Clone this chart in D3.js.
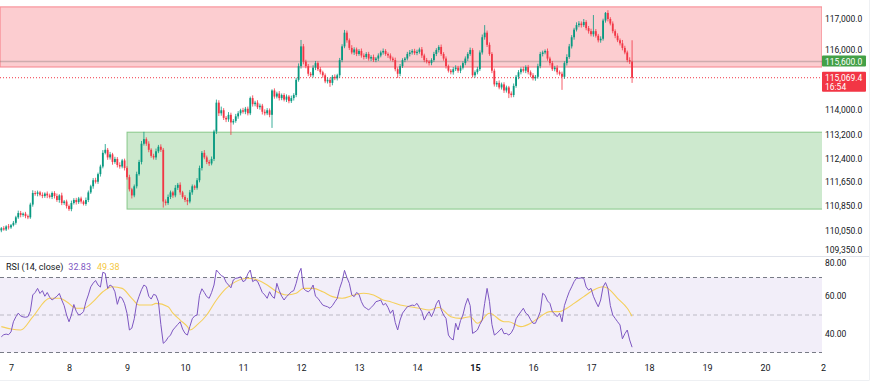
<!DOCTYPE html>
<html>
<head>
<meta charset="utf-8">
<script src="https://cdn.jsdelivr.net/npm/d3@7"></script>
<style>
body { margin: 0; background: #fff; }
svg text { font-family: Roboto, "Liberation Sans", sans-serif; }
</style>
</head>
<body>
<div id="chart"></div>
<script>
// hourly candles, the first one opens on Aug 6 20:00 (UTC)
var startTime = Date.UTC(2025, 7, 6, 20);
var firstOpen = 110050;

// closing prices, one row per day
var closes = [
    110120, 110080, 110180, 110150,
    110220, 110300, 110480, 110620, 110560, 110600, 110520, 110480, 110900, 111280, 111250, 111300,
    111220, 111180, 111260, 111200, 111150, 111280, 111180, 111050, 111200, 110950, 111000, 110850,
    110750, 110950, 111050, 110980, 111100, 111000, 110920, 111050, 111300, 111500, 111700, 111650,
    111900, 112150, 112600, 112700, 112450, 112550, 112300, 112400, 112200, 112150, 112350, 112100,
    111800, 111400, 111200, 111500, 111900, 112300, 112900, 113050, 112900, 112700, 112500, 112450,
    112650, 112800, 112700, 111000, 110950, 111150, 111300, 111200, 111450, 111550, 111300, 111150,
    111050, 111000, 111300, 111500, 111450, 111700, 112100, 112600, 112450, 112300, 112250, 112400,
    113300, 114250, 113900, 114000, 113750, 113700, 113850, 113600, 113650, 113800, 113900, 114000,
    113950, 114050, 113900, 114400, 114200, 114250, 114100, 114150, 113950, 113900, 114000, 113850,
    114650, 114450, 114550, 114400, 114500, 114350, 114450, 114300, 114400, 114500, 115000, 115450,
    116100, 115600, 115450, 115200, 115150, 115400, 115550, 115350, 115250, 115150, 114950, 115000,
    114900, 115100, 115050, 115150, 115650, 116100, 116550, 116300, 116050, 115900, 116000, 115850,
    115950, 115800, 115750, 115850, 115700, 115750, 115650, 115700, 115800, 115900, 115950, 115850,
    115800, 115700, 115650, 115350, 115200, 115450, 115650, 115700, 115850, 115900, 115950, 115880,
    115920, 116000, 115800, 115650, 115600, 115550, 115650, 115850, 115980, 116080, 115850, 115700,
    115450, 115300, 115250, 115350, 115400, 115300, 115400, 115550, 115700, 115850, 115980, 115150,
    115250, 115350, 115900, 116400, 116550, 116150, 115850, 115300, 114850, 114900, 114750, 114850,
    114650, 114750, 114550, 114500, 114800, 115100, 115250, 115350, 115300, 115420, 115250, 115150,
    115050, 115100, 115450, 115850, 115900, 115950, 115700, 115550, 115350, 115400, 115250, 115200,
    115100, 115550, 115750, 116100, 116400, 116650, 116800, 116850, 116800, 116900, 116700, 116600,
    116500, 116600, 116450, 116300, 116350, 116950, 117200, 117000, 116850, 116600, 116450, 116300,
    116200, 116050, 115900, 115650, 115600, 115069.4
];

// how far each high sits above the body
var wickUp = [
    40, 70, 40, 80,
    40, 60, 50, 80, 70, 40, 60, 50, 60, 90, 70, 60, 50, 80, 40, 70, 60, 50, 60, 80, 40, 90, 50, 60,
    50, 80, 60, 70, 50, 60, 40, 80, 60, 50, 70, 80, 50, 60, 90, 190, 60, 80, 50, 70, 60, 90, 50, 60,
    60, 80, 50, 60, 80, 70, 90, 240, 60, 80, 50, 70, 90, 60, 80, 60, 70, 80, 60, 50, 90, 60, 80, 50,
    60, 70, 80, 60, 50, 70, 80, 60, 90, 60, 70, 80, 60, 100, 80, 120, 70, 60, 90, 70, 60, 80, 70, 50,
    80, 60, 70, 50, 90, 60, 80, 70, 60, 80, 70, 60, 40, 70, 60, 80, 50, 60, 70, 50, 80, 60, 70, 90,
    210, 80, 60, 70, 60, 80, 70, 60, 70, 50, 60, 80, 70, 60, 80, 50, 70, 70, 90, 70, 60, 90, 70, 60,
    60, 80, 70, 60, 70, 60, 80, 50, 70, 60, 80, 60, 50, 70, 60, 80, 60, 70, 60, 50, 70, 80, 60, 70,
    70, 60, 80, 60, 70, 50, 60, 70, 60, 60, 80, 60, 70, 50, 60, 70, 80, 60, 70, 60, 70, 60, 80, 60,
    60, 80, 70, 90, 250, 70, 80, 60, 70, 60, 80, 60, 70, 60, 50, 70, 80, 60, 70, 60, 80, 60, 70, 60,
    70, 60, 80, 70, 60, 50, 80, 60, 70, 60, 80, 60, 70, 60, 90, 80, 70, 60, 90, 80, 70, 100, 60, 70,
    80, 530, 70, 60, 80, 60, 30, 90, 60, 70, 60, 80, 60, 110, 70, 60, 90, 700
];

// how far each low sits below the body
var wickDown = [
    60, 40, 50, 70,
    50, 40, 60, 50, 80, 60, 70, 60, 50, 70, 60, 80, 50, 70, 60, 90, 50, 70, 80, 60, 90, 70, 60, 80,
    60, 70, 50, 80, 60, 70, 50, 60, 70, 50, 80, 60, 70, 80, 60, 50, 80, 70, 90, 60, 80, 70, 60, 80,
    80, 70, 100, 60, 70, 50, 80, 60, 70, 80, 60, 70, 80, 60, 70, 200, 80, 60, 70, 80, 60, 70, 80, 60,
    70, 120, 60, 80, 70, 60, 70, 80, 60, 70, 80, 60, 70, 80, 90, 80, 70, 90, 80, 410, 70, 60, 80, 70,
    60, 80, 70, 60, 80, 70, 60, 80, 90, 70, 60, 80, 430, 70, 60, 80, 70, 60, 80, 70, 60, 80, 70, 60,
    80, 90, 70, 80, 60, 70, 80, 60, 70, 80, 60, 70, 130, 80, 60, 70, 80, 70, 60, 80, 70, 60, 80, 70,
    60, 70, 80, 60, 70, 80, 60, 70, 80, 60, 70, 60, 80, 70, 60, 70, 140, 80, 60, 70, 60, 80, 70, 60,
    70, 60, 80, 70, 60, 80, 70, 60, 70, 80, 60, 70, 80, 60, 70, 80, 60, 70, 80, 60, 70, 80, 60, 70,
    80, 70, 60, 70, 80, 70, 60, 80, 70, 80, 60, 70, 80, 70, 150, 80, 70, 60, 80, 70, 60, 80, 70, 60,
    70, 80, 60, 70, 80, 60, 70, 80, 60, 70, 80, 60, 430, 70, 80, 60, 70, 80, 60, 70, 80, 60, 70, 80,
    70, 80, 60, 70, 80, 60, 70, 80, 60, 70, 80, 60, 70, 80, 60, 70, 80, 170
];

// RSI (14, close), one value per candle
var rsiValues = [
    38.4, 39.5, 39.8, 39.5,
    41.0, 46.4, 49.0, 51.0, 49.5, 49.0, 48.8, 49.1, 52.0, 60.7, 62.0, 64.2,
    61.5, 63.0, 60.0, 62.0, 59.5, 58.0, 59.0, 60.0, 61.5, 58.0, 55.0, 50.0,
    46.4, 50.0, 55.6, 52.0, 50.0, 50.5, 51.8, 57.0, 60.7, 65.0, 67.0, 68.4,
    66.0, 64.9, 72.8, 72.2, 64.2, 66.0, 65.1, 62.4, 55.7, 59.8, 58.9, 56.0,
    50.9, 42.0, 43.0, 48.0, 56.2, 60.0, 63.5, 66.0, 65.1, 60.0, 58.5, 61.0,
    60.5, 57.1, 45.0, 34.9, 36.0, 38.0, 39.3, 42.0, 43.5, 45.0, 46.4, 42.5,
    40.2, 39.3, 43.8, 48.0, 49.5, 50.0, 60.4, 64.0, 62.0, 59.8, 58.9, 62.0,
    66.0, 74.0, 72.5, 71.0, 70.4, 67.5, 66.0, 64.5, 68.7, 69.6, 69.8, 70.4,
    67.8, 68.5, 72.0, 74.0, 67.8, 68.7, 68.0, 65.1, 62.0, 60.7, 58.9, 62.4,
    60.0, 58.9, 66.9, 63.0, 60.0, 58.0, 59.8, 61.0, 62.4, 63.0, 66.9, 72.0,
    74.9, 64.2, 63.0, 62.4, 63.5, 66.0, 60.0, 58.9, 57.1, 55.3, 54.8, 54.4,
    53.6, 55.0, 57.0, 58.9, 64.2, 68.0, 73.8, 70.0, 66.9, 60.7, 59.8, 62.0,
    61.0, 57.1, 54.5, 53.6, 52.7, 54.0, 55.3, 57.1, 57.5, 58.0, 55.3, 56.2,
    54.0, 50.9, 52.7, 46.0, 42.0, 47.3, 51.0, 52.7, 54.4, 54.8, 55.3, 55.0,
    56.2, 54.0, 51.8, 47.3, 50.0, 51.8, 49.1, 52.0, 56.0, 58.0, 53.0, 50.0,
    48.2, 39.3, 37.5, 36.7, 45.6, 42.0, 47.0, 50.0, 55.3, 58.9, 55.0, 40.2,
    41.0, 42.0, 45.0, 47.3, 56.2, 64.2, 57.1, 45.0, 39.3, 40.2, 41.5, 42.9,
    40.0, 40.2, 39.3, 40.5, 42.9, 48.0, 50.0, 51.8, 53.6, 51.0, 50.0, 47.5,
    45.6, 45.6, 48.5, 51.8, 61.6, 60.5, 57.5, 56.2, 51.8, 50.5, 49.1, 50.9,
    46.4, 55.0, 58.9, 62.4, 65.0, 67.8, 69.6, 69.6, 69.8, 69.6, 65.0, 63.3,
    64.2, 60.0, 57.0, 54.4, 58.0, 65.0, 67.3, 64.2, 55.0, 50.0, 48.2, 46.4,
    44.7, 37.3, 40.0, 42.0, 36.7, 32.83
];

// RSI-based MA, read as [candle index, value]
var rsiMa = [
    [0, 43.8], [4, 42.5], [8, 42.0], [13, 49.0], [20, 58.9], [24, 58.9], [27, 57.1], [31, 53.6],
    [34, 53.6], [38, 57.1], [42, 62.4], [46, 65.1], [50, 64.2], [54, 58.9], [57, 55.3], [62, 55.3],
    [64, 56.2], [69, 54.4], [71, 51.0], [74, 47.3], [77, 43.8], [78, 42.0], [81, 44.7], [85, 50.0],
    [89, 58.0], [93, 64.2], [97, 67.8], [102, 69.6], [106, 68.7], [110, 66.0], [114, 62.4], [118, 60.7],
    [122, 61.6], [125, 64.2], [129, 64.2], [133, 62.4], [137, 59.8], [141, 58.9], [146, 60.7], [150, 61.6],
    [154, 60.7], [158, 58.0], [161, 57.1], [165, 55.3], [169, 54.4], [173, 53.6], [177, 52.7], [181, 54.0],
    [186, 49.1], [190, 48.2], [194, 49.1], [197, 45.6], [202, 50.9], [208, 46.4], [210, 46.4], [215, 43.8],
    [219, 45.6], [223, 49.1], [227, 51.8], [231, 51.8], [234, 53.6], [237, 56.2], [241, 59.8], [245, 63.3],
    [249, 65.1], [251, 64.2], [255, 58.9], [259, 53.6], [261, 49.38]
];

var supplyZone = [117400, 115420];
var demandZone = [113280, 110750];
var demandStart = Date.UTC(2025, 7, 9);
var levelPrice = 115600;
var lastPrice = 115069.4;
var countdown = "16:54";

var priceTicks = [117000, 116000, 114000, 113200, 112400, 111650, 110850, 110050, 109350];
var rsiTicks = [80, 60, 40];
var rsiLevels = [70, 50, 30];
var dayTicks = [7, 8, 9, 10, 11, 12, 13, 14, 15, 16, 17, 18, 19, 20, 21];
var dayLabels = ["7", "8", "9", "10", "11", "12", "13", "14", "15", "16", "17", "18", "19", "20", "2"];

var W = 878, H = 390;
var plotRight = 822;
var paneSplit = 256;

var upColor = "#089981", downColor = "#f23645";

var svg = d3.select("#chart").append("svg")
    .attr("width", W)
    .attr("height", H);

var x = d3.scaleUtc()
    .domain([Date.UTC(2025, 7, 7), Date.UTC(2025, 7, 21)])
    .range([11, 823]);
var y = d3.scaleLinear().domain([109350, 117000]).range([251.7, 19]);
var yr = d3.scaleLinear().domain([30, 70]).range([352.5, 277.5]);

var candles = closes.map(function(c, i) {
    var o = i === 0 ? firstOpen : closes[i - 1];
    return {
        t: new Date(startTime + i * 3600e3),
        o: o,
        c: c,
        h: Math.max(o, c) + wickUp[i],
        l: Math.min(o, c) - wickDown[i]
    };
});

svg.append("clipPath").attr("id", "price-clip")
    .append("rect").attr("x", 0).attr("y", 0).attr("width", plotRight).attr("height", paneSplit);

var pricePane = svg.append("g").attr("clip-path", "url(#price-clip)");

// supply zone (red) and demand zone (green)
pricePane.append("rect")
    .attr("x", 0)
    .attr("y", y(supplyZone[0]))
    .attr("width", plotRight)
    .attr("height", y(supplyZone[1]) - y(supplyZone[0]))
    .attr("fill", "rgba(242,54,69,0.25)")
    .attr("stroke", "rgba(242,54,69,0.45)")
    .attr("stroke-width", 1.2);

pricePane.append("rect")
    .attr("x", x(demandStart))
    .attr("y", y(demandZone[0]))
    .attr("width", plotRight - x(demandStart) + 2)
    .attr("height", y(demandZone[1]) - y(demandZone[0]))
    .attr("fill", "rgba(76,175,80,0.28)")
    .attr("stroke", "rgba(76,175,80,0.6)")
    .attr("stroke-width", 1);

// horizontal level
pricePane.append("line")
    .attr("x1", 0).attr("x2", plotRight)
    .attr("y1", y(levelPrice)).attr("y2", y(levelPrice))
    .attr("stroke", "rgba(120,110,110,0.35)")
    .attr("stroke-width", 1.5);

// last price line
pricePane.append("line")
    .attr("x1", 0).attr("x2", plotRight)
    .attr("y1", y(lastPrice)).attr("y2", y(lastPrice))
    .attr("stroke", downColor)
    .attr("stroke-width", 1)
    .attr("stroke-dasharray", "1,2");

var candleG = pricePane.selectAll("g.candle")
    .data(candles)
    .enter()
    .append("g")
    .attr("class", "candle");

candleG.append("line")
    .attr("x1", function(d) { return x(d.t); })
    .attr("x2", function(d) { return x(d.t); })
    .attr("y1", function(d) { return y(d.h); })
    .attr("y2", function(d) { return y(d.l); })
    .attr("stroke", function(d) { return d.c >= d.o ? upColor : downColor; })
    .attr("stroke-width", 0.8);

candleG.append("rect")
    .attr("x", function(d) { return x(d.t) - 0.9; })
    .attr("width", 1.8)
    .attr("y", function(d) { return y(Math.max(d.o, d.c)); })
    .attr("height", function(d) { return Math.max(0.8, Math.abs(y(d.o) - y(d.c))); })
    .attr("fill", function(d) { return d.c >= d.o ? upColor : downColor; });

// price scale
var priceAxis = svg.append("g")
    .attr("transform", "translate(" + plotRight + ",0)")
    .call(d3.axisRight(y).tickValues(priceTicks).tickFormat(d3.format(",.1f")).tickSize(0).tickPadding(3));
priceAxis.select(".domain").remove();
priceAxis.selectAll("text")
    .attr("font-size", 8.5)
    .attr("fill", "#131722")
    // the lowest label sits right on the pane border, lift it a little
    .attr("dy", function(d) { return d === 109350 ? "0.05em" : "0.32em"; });

function priceLabel(price, color, lines, h) {
    var g = svg.append("g");
    g.append("rect")
        .attr("x", plotRight)
        .attr("y", y(price) - 6)
        .attr("width", 44)
        .attr("height", h)
        .attr("rx", 1)
        .attr("fill", color);
    lines.forEach(function(s, i) {
        g.append("text")
            .attr("x", plotRight + 3)
            .attr("y", y(price) + 3 + i * 9)
            .attr("font-size", 8.5)
            .attr("fill", "#fff")
            .text(s);
    });
}
priceLabel(levelPrice, "#43a047", [d3.format(",.1f")(levelPrice)], 11);
priceLabel(lastPrice, downColor, [d3.format(",.1f")(lastPrice), countdown], 20);

// pane separator
svg.append("line")
    .attr("x1", 0).attr("x2", 869)
    .attr("y1", paneSplit + 0.5).attr("y2", paneSplit + 0.5)
    .attr("stroke", "#e0e3eb");

// RSI pane
var rsiPane = svg.append("g");
rsiPane.append("rect")
    .attr("x", 0)
    .attr("y", yr(70))
    .attr("width", plotRight)
    .attr("height", yr(30) - yr(70))
    .attr("fill", "rgba(126,87,194,0.1)");

rsiPane.selectAll("line.level")
    .data(rsiLevels)
    .enter()
    .append("line")
    .attr("class", "level")
    .attr("x1", 0).attr("x2", plotRight)
    .attr("y1", function(d) { return yr(d); })
    .attr("y2", function(d) { return yr(d); })
    .attr("stroke", function(d) { return d === 50 ? "rgba(120,123,134,0.45)" : "#787b86"; })
    .attr("stroke-dasharray", "4,3");

var maLine = d3.line()
    .x(function(d) { return x(new Date(startTime + d[0] * 3600e3)); })
    .y(function(d) { return yr(d[1]); })
    .curve(d3.curveMonotoneX);

rsiPane.append("path")
    .attr("d", maLine(rsiMa))
    .attr("fill", "none")
    .attr("stroke", "#f5cf5a")
    .attr("stroke-width", 1.1);

var rsiLine = d3.line()
    .x(function(d, i) { return x(new Date(startTime + i * 3600e3)); })
    .y(function(d) { return yr(d); });

rsiPane.append("path")
    .attr("d", rsiLine(rsiValues))
    .attr("fill", "none")
    .attr("stroke", "#7e57c2")
    .attr("stroke-width", 1);

var rsiAxis = svg.append("g")
    .attr("transform", "translate(" + plotRight + ",0)")
    .call(d3.axisRight(yr).tickValues(rsiTicks).tickFormat(d3.format(".2f")).tickSize(0).tickPadding(3));
rsiAxis.select(".domain").remove();
rsiAxis.selectAll("text")
    .attr("font-size", 8.5)
    .attr("fill", "#131722")
    .attr("dy", function(d) { return d === 80 ? "0.75em" : "0.32em"; });

// legend
var legend = svg.append("text").attr("x", 6).attr("y", 270).attr("font-size", 9);
legend.append("tspan").attr("fill", "#131722").text("RSI (14, close)");
legend.append("tspan").attr("dx", 5).attr("fill", "#7e57c2").text(d3.format(".2f")(rsiValues[rsiValues.length - 1]));
legend.append("tspan").attr("dx", 6).attr("fill", "#f5c842").text(d3.format(".2f")(rsiMa[rsiMa.length - 1][1]));

// time scale
var timeAxis = svg.append("g")
    .attr("transform", "translate(0,362)")
    .call(d3.axisBottom(x)
        .tickValues(dayTicks.map(function(d) { return new Date(Date.UTC(2025, 7, d)); }))
        .tickFormat(function(d, i) { return dayLabels[i]; })
        .tickSize(0).tickPadding(3));
timeAxis.select(".domain").remove();
timeAxis.selectAll("text")
    .attr("font-size", 9)
    .attr("fill", "#131722")
    .attr("font-weight", function(d, i) { return dayLabels[i] === "15" ? "bold" : null; });

// outer frame
svg.append("line").attr("x1", 869.5).attr("x2", 869.5).attr("y1", 0).attr("y2", 380).attr("stroke", "#eef0f3");
svg.append("line").attr("x1", 0).attr("x2", 869.5).attr("y1", 380.5).attr("y2", 380.5).attr("stroke", "#eef0f3");
</script>
</body>
</html>
